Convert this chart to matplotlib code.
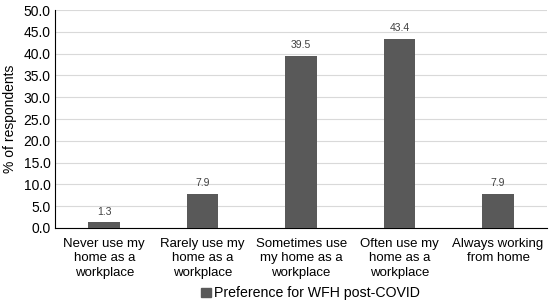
import matplotlib
matplotlib.use("Agg")
import matplotlib.pyplot as plt
from matplotlib.patches import Patch

categories = ["Never use my\nhome as a\nworkplace", "Rarely use my\nhome as a\nworkplace",
              "Sometimes use\nmy home as a\nworkplace", "Often use my\nhome as a\nworkplace",
              "Always working\nfrom home"]
values = [1.3, 7.9, 39.5, 43.4, 7.9]
series_name = "Preference for WFH post-COVID"
yticks = [0, 5, 10, 15, 20, 25, 30, 35, 40, 45, 50]

plt.rcParams['font.family'] = ['Liberation Sans', 'DejaVu Sans']
fig = plt.figure(figsize=(5.5, 3.05), dpi=100)
ax = fig.add_axes([0.1, 0.2525, 0.895, 0.7145])
x = list(range(len(values)))
bars = ax.bar(x, values, width=0.32, color='#595959', zorder=3)
for xi, v in zip(x, values):
    ax.text(xi, v + 1.3, f"{v:.1f}", ha='center', va='bottom', fontsize=7.5, color='#404040')
ax.set_xlim(-0.5, len(values) - 0.5)
ax.set_ylim(0, 50)
ax.set_yticks(yticks)
ax.set_yticklabels([f"{t:.1f}" for t in yticks], fontsize=10)
ax.set_xticks(x)
ax.set_xticklabels(categories, fontsize=9.5, linespacing=1.28)
ax.tick_params(axis='both', length=0, pad=3)
ax.tick_params(axis='x', pad=7)
ax.grid(axis='y', color='#d9d9d9', linewidth=0.8, zorder=0)
for s in ['top', 'right']:
    ax.spines[s].set_visible(False)
ax.spines['left'].set_color('black')
ax.spines['bottom'].set_color('black')
ax.set_ylabel("% of respondents", fontsize=10, labelpad=5)
fig.legend(handles=[Patch(color='#595959', label=series_name)], loc='center',
           bbox_to_anchor=(0.565, 0.038), frameon=False, fontsize=10.2,
           handlelength=0.65, handleheight=0.65, handletextpad=0.25)
fig.savefig("out.png", dpi=100)
